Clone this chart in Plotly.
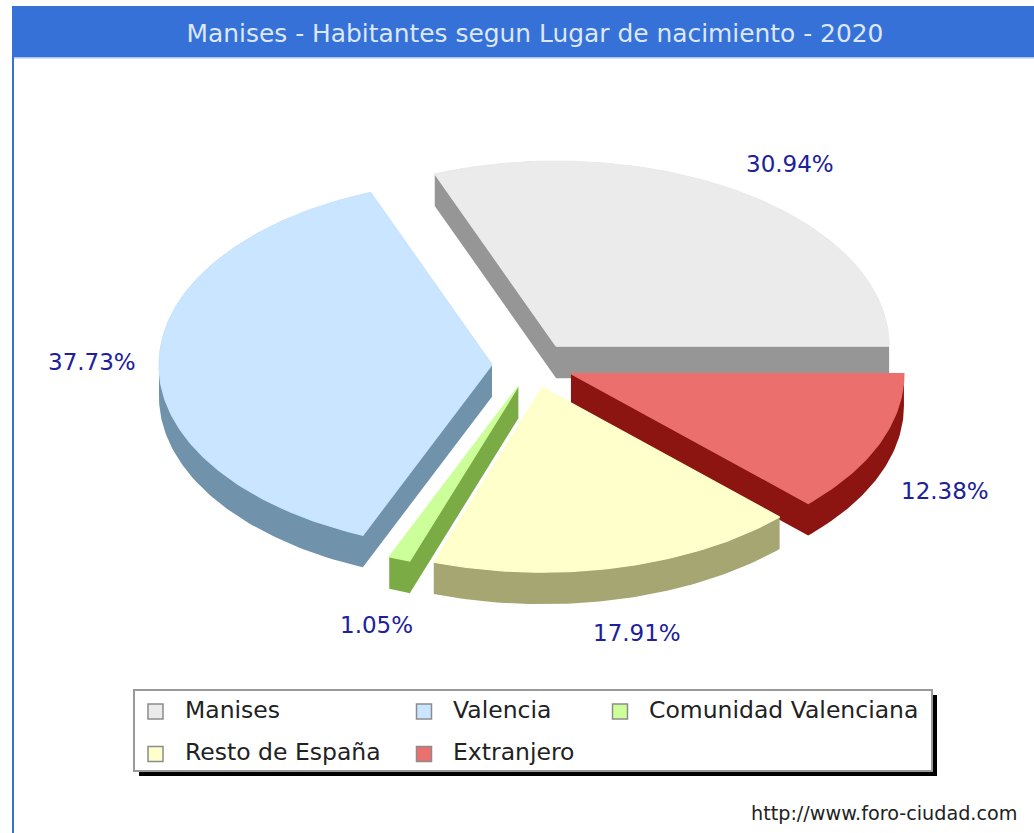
import numpy as np
import plotly.graph_objects as go

# ---- data ----
categories = ["Manises", "Valencia", "Comunidad Valenciana", "Resto de España", "Extranjero"]
values = [30.94, 37.73, 1.05, 17.91, 12.38]
top_colors = ["#EBEBEB", "#C9E5FF", "#CCFF99", "#FFFFCC", "#EB706D"]
side_colors = ["#969696", "#7192AB", "#7AAB45", "#A6A673", "#8C1411"]
title_text = "Manises - Habitantes segun Lugar de nacimiento - 2020"
credit_text = "http://www.foro-ciudad.com"

# ---- pie projection (pixel-scaled axes) ----
CX, CY = 533.0, 365.0
RX, RY = 333.0, 185.0
EXPLODE = 41.0
DEPTH = 32.0
LABEL_DX, LABEL_DY = 74.0, 35.0
W, H = 1034, 833
FONT = "DejaVu Sans"
label_nudge_x = [4.5, 7, 3, 1.5, -3]
label_nudge_y = [0, 0, 1, 0, 2]


def hull(points):
    pts = sorted(set(points))
    def half(seq):
        out = []
        for p in seq:
            while len(out) >= 2 and (out[-1][0] - out[-2][0]) * (p[1] - out[-2][1]) - (out[-1][1] - out[-2][1]) * (p[0] - out[-2][0]) <= 0:
                out.pop()
            out.append(p)
        return out[:-1]
    return half(pts) + half(pts[::-1])


total = sum(values)
edges = np.concatenate([[0.0], np.cumsum(values) / total * 2 * np.pi])
wedges = {}
label_pos = {}
for i, name in enumerate(categories):
    a0, a1 = edges[i], edges[i + 1]
    mid = (a0 + a1) / 2
    ax = CX + EXPLODE * np.cos(mid)
    ay = CY - EXPLODE * np.sin(mid) * RY / RX
    th = np.linspace(a0, a1, max(6, int((a1 - a0) * 60)))
    xs = np.concatenate([[ax], ax + RX * np.cos(th)])
    ys = np.concatenate([[ay], ay - RY * np.sin(th)])
    wedges[i] = (xs, ys)
    rim_x = ax + RX * np.cos(mid)
    rim_y = ay - RY * np.sin(mid)
    drop = DEPTH if np.sin(mid) < 0 else 0.0
    label_pos[i] = (rim_x + LABEL_DX * np.cos(mid) + label_nudge_x[i],
                    rim_y - LABEL_DY * np.sin(mid) + drop + label_nudge_y[i])

fig = go.Figure()
draw_order = [0, 4, 1, 2, 3]
for i in draw_order:
    xs, ys = wedges[i]
    pts = [(float(x), float(y)) for x, y in zip(xs, ys)]
    pts += [(x, y + DEPTH) for x, y in pts]
    h = hull(pts)
    hx = [p[0] for p in h] + [h[0][0]]
    hy = [p[1] for p in h] + [h[0][1]]
    fig.add_trace(go.Scatter(x=hx, y=hy, mode="lines", fill="toself", fillcolor=side_colors[i],
                             line=dict(width=0), hoverinfo="skip", showlegend=False))
    fig.add_trace(go.Scatter(x=list(xs) + [xs[0]], y=list(ys) + [ys[0]], mode="lines", fill="toself",
                             fillcolor=top_colors[i], line=dict(color=top_colors[i], width=1.2),
                             name=categories[i], hoverinfo="name", showlegend=False))

# legend swatches
swatch_x = [155.5, 424, 620, 155.5, 424]
swatch_y = [711.5, 711.5, 711.5, 754, 754]
fig.add_trace(go.Scatter(x=swatch_x, y=swatch_y, mode="markers", showlegend=False, hoverinfo="skip",
                         marker=dict(symbol="square", size=15, color=top_colors,
                                     line=dict(color="#8C8C8C", width=1.5))))

annotations = []
for i, v in enumerate(values):
    lx, ly = label_pos[i]
    annotations.append(dict(x=lx, y=ly, xref="x", yref="y", text=f"{v:.2f}%", showarrow=False,
                            xanchor="center", yanchor="middle",
                            font=dict(family=FONT, size=23, color="#20209A")))
text_x = [183, 451, 647, 183, 451]
text_y = [710, 710, 710, 752, 752]
for name, tx, ty in zip(categories, text_x, text_y):
    annotations.append(dict(x=tx, y=ty, xref="x", yref="y", text=name, showarrow=False,
                            xanchor="left", yanchor="middle",
                            font=dict(family=FONT, size=23.5, color="#222222")))
annotations.append(dict(x=1019, y=813, xref="x", yref="y", text=credit_text, showarrow=False,
                        xanchor="right", yanchor="middle",
                        font=dict(family=FONT, size=19.2, color="#222222")))

shapes = [
    dict(type="rect", x0=12, x1=14, y0=57, y1=H, fillcolor="#3571D6", line=dict(width=0), layer="below"),
    dict(type="rect", x0=12, x1=W, y0=6, y1=57, fillcolor="#3571D6", line=dict(width=0), layer="below"),
    dict(type="rect", x0=14, x1=W, y0=57, y1=58.5, fillcolor="#A9C4F0", line=dict(width=0), layer="below"),
    dict(type="rect", x0=139, x1=937, y0=695, y1=776, fillcolor="#000000", line=dict(width=0), layer="below"),
    dict(type="rect", x0=134, x1=932, y0=690, y1=771, fillcolor="#FFFFFF",
         line=dict(color="#999999", width=2), layer="below"),
]

fig.update_layout(
    width=W, height=H, margin=dict(l=0, r=0, t=0, b=0), autosize=False,
    paper_bgcolor="white", plot_bgcolor="white", showlegend=False,
    title=dict(text=title_text, x=535 / W, y=1 - 33 / H, xanchor="center", yanchor="middle",
               font=dict(family=FONT, size=24.9, color="#DCE7FA")),
    xaxis=dict(range=[0, W], visible=False, fixedrange=True),
    yaxis=dict(range=[H, 0], visible=False, fixedrange=True),
    shapes=shapes, annotations=annotations,
)
fig.write_html("out.html", config=dict(displayModeBar=False),
               post_script="document.body.style.margin='0';document.body.style.overflow='hidden';")
